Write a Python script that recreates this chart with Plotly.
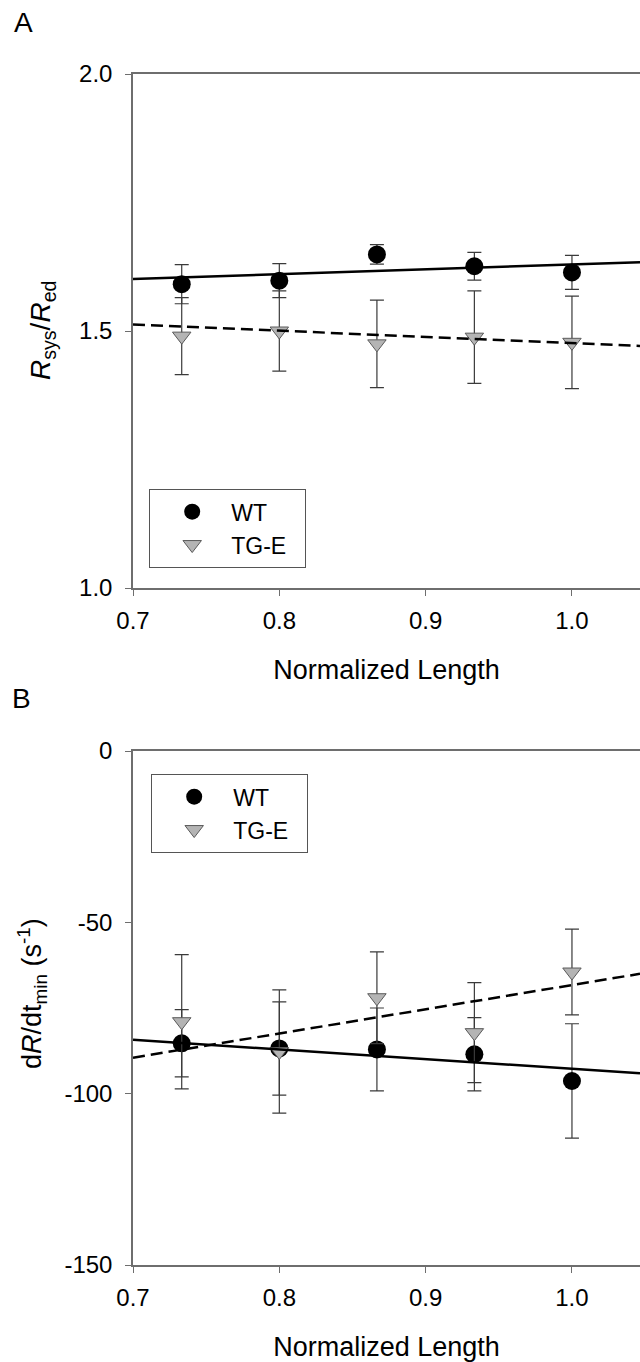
import numpy as np
import plotly.graph_objects as go

# Normalized sarcomere length positions
norm_length = [0.7333, 0.8, 0.8667, 0.9333, 1.0]

# Panel A: R_sys / R_ed (mean, SEM)
ratio_wt = [1.591, 1.598, 1.649, 1.626, 1.614]
ratio_wt_err = [0.038, 0.033, 0.019, 0.027, 0.033]
ratio_tg = [1.490, 1.500, 1.475, 1.488, 1.478]
ratio_tg_err = [0.075, 0.078, 0.085, 0.090, 0.090]

# Panel B: dR/dt_min (mean, SEM)
drdt_wt = [-85.3, -86.8, -87.1, -88.5, -96.3]
drdt_wt_err = [9.8, 13.6, 12.1, 10.7, 16.7]
drdt_tg = [-79.0, -87.7, -72.0, -82.2, -64.5]
drdt_tg_err = [19.6, 18.0, 13.4, 14.6, 12.5]

# Linear regression lines (intercept, slope)
fit_ratio_wt = (1.5348, 0.0946)
fit_ratio_tg = (1.5969, -0.1204)
fit_drdt_wt = (-64.63, -28.1)
fit_drdt_tg = (-139.0, 70.7)

# Axis ticks
x_ticks = [0.7, 0.8, 0.9, 1.0]
x_tick_text = ["0.7", "0.8", "0.9", "1.0"]
ratio_ticks = [1.0, 1.5, 2.0]
ratio_tick_text = ["1.0", "1.5", "2.0"]
drdt_ticks = [0, -50, -100, -150]
drdt_tick_text = ["0", "-50", "-100", "-150"]

W, H = 640, 1362
FONT = "Liberation Sans, Arial, sans-serif"
X_RANGE = [0.7, 1.0465]
AXIS_COLOR = "#6e6e6e"
ERR_COLOR = "#3a3a3a"
TG_FILL = "#b4b4b4"
NBSP = "\u00a0"


def py(px):
    return 1 - px / H


fig = go.Figure()


def add_panel(xa, ya, wt, wt_err, tg, tg_err, fit_wt, fit_tg, legend):
    fig.add_trace(go.Scatter(
        x=norm_length, y=wt, mode="markers", name="WT",
        xaxis=xa, yaxis=ya, legend=legend,
        marker=dict(symbol="circle", size=18, color="black",
                    line=dict(color="black", width=0)),
        error_y=dict(type="data", array=wt_err, visible=True,
                     color=ERR_COLOR, thickness=1.2, width=7),
    ))
    fig.add_trace(go.Scatter(
        x=norm_length, y=tg, mode="markers", name="TG-E" + NBSP * 2,
        xaxis=xa, yaxis=ya, legend=legend,
        marker=dict(symbol="triangle-down", size=16, color=TG_FILL,
                    line=dict(color="#5a5a5a", width=1)),
        error_y=dict(type="data", array=tg_err, visible=True,
                     color=ERR_COLOR, thickness=1.2, width=7),
    ))
    xs = np.array(X_RANGE)
    fig.add_trace(go.Scatter(
        x=xs, y=fit_wt[0] + fit_wt[1] * xs, mode="lines", showlegend=False,
        xaxis=xa, yaxis=ya, line=dict(color="black", width=2.5),
    ))
    fig.add_trace(go.Scatter(
        x=xs, y=fit_tg[0] + fit_tg[1] * xs, mode="lines", showlegend=False,
        xaxis=xa, yaxis=ya, line=dict(color="black", width=2.5, dash="12px,6px"),
    ))


add_panel("x", "y", ratio_wt, ratio_wt_err, ratio_tg, ratio_tg_err,
          fit_ratio_wt, fit_ratio_tg, "legend")
add_panel("x2", "y2", drdt_wt, drdt_wt_err, drdt_tg, drdt_tg_err,
          fit_drdt_wt, fit_drdt_tg, "legend2")

x_left = 133 / W

common_x = dict(
    range=X_RANGE, tickvals=x_ticks, ticktext=x_tick_text,
    showline=True, linecolor=AXIS_COLOR, linewidth=1.5, mirror=True,
    ticks="outside", ticklen=6, tickwidth=1.2, tickcolor=AXIS_COLOR,
    showgrid=False, zeroline=False, automargin=False,
    tickfont=dict(family=FONT, size=24, color="black"),
    ticklabelstandoff=4,
    title=dict(text="Normalized Length", standoff=28,
               font=dict(family=FONT, size=27, color="black")),
    domain=[x_left, 1],
)
common_y = dict(
    showline=True, linecolor=AXIS_COLOR, linewidth=1.5, mirror=False,
    ticks="outside", ticklen=6, tickwidth=1.2, tickcolor=AXIS_COLOR,
    showgrid=False, zeroline=False, automargin=False,
    tickfont=dict(family=FONT, size=24, color="black"),
    ticklabelstandoff=8,
)

legend_common = dict(
    bgcolor="white", bordercolor="#555555", borderwidth=1.2,
    font=dict(family=FONT, size=23, color="black"),
    xanchor="left", yanchor="top", itemwidth=68, indentation=3,
    tracegroupgap=0,
)

fig.update_layout(
    width=W, height=H,
    margin=dict(l=0, r=0, t=0, b=0, autoexpand=False),
    paper_bgcolor="white", plot_bgcolor="white",
    showlegend=True,
    xaxis=dict(common_x, anchor="y"),
    yaxis=dict(common_y, range=[1.0, 2.0], tickvals=ratio_ticks,
               ticktext=ratio_tick_text, anchor="x",
               domain=[py(588), py(74)]),
    xaxis2=dict(common_x, anchor="y2"),
    yaxis2=dict(common_y, range=[-150, 0], tickvals=drdt_ticks,
                ticktext=drdt_tick_text, anchor="x2",
                domain=[py(1265), py(751)]),
    legend=dict(legend_common, x=149 / W, y=py(489)),
    legend2=dict(legend_common, x=151 / W, y=py(774)),
    annotations=[
        dict(text="A", x=12 / W, y=py(22), xref="paper", yref="paper",
             xanchor="left", yanchor="middle", showarrow=False,
             font=dict(family=FONT, size=28, color="black")),
        dict(text="B", x=10 / W, y=py(698), xref="paper", yref="paper",
             xanchor="left", yanchor="middle", showarrow=False,
             font=dict(family=FONT, size=28, color="black")),
        dict(text="<i>R</i><sub>sys</sub>/<i>R</i><sub>ed</sub>",
             x=42 / W, y=py(331), xref="paper", yref="paper",
             xanchor="center", yanchor="middle", textangle=-90,
             showarrow=False, font=dict(family=FONT, size=28, color="black")),
        dict(text="d<i>R</i>/dt<sub>min</sub> (s<sup>-1</sup>)",
             x=32 / W, y=py(994), xref="paper", yref="paper",
             xanchor="center", yanchor="middle", textangle=-90,
             showarrow=False, font=dict(family=FONT, size=27, color="black")),
    ],
)

fig.write_html("out.html")
